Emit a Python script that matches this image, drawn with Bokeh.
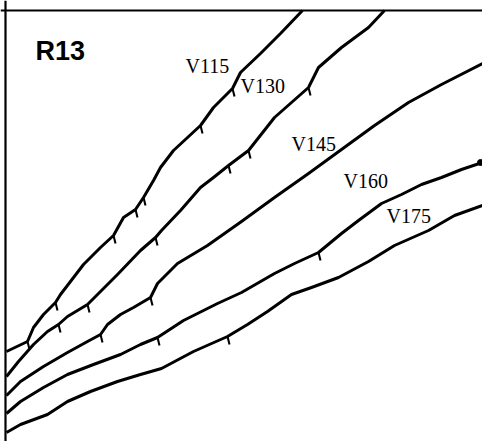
import numpy as np
from bokeh.plotting import figure
from bokeh.models import Range1d, Span
from bokeh.core.properties import value
from bokeh.embed import file_html
from bokeh.resources import INLINE

# Curves (x across the box, y up from the bottom edge)
v115_x = [6, 27, 33, 43, 55, 60, 83, 100, 113, 123, 135, 143, 153, 160, 173, 200, 213, 232, 240, 260, 280, 302]
v115_y = [90, 100, 114, 127, 139, 147, 177, 194, 206, 224, 232, 244, 261, 274, 291, 316, 334, 353, 369, 388, 408, 431]

v130_x = [6, 18, 33, 47, 58, 67, 87, 97, 117, 140, 155, 161, 180, 200, 213, 228, 248, 274, 308, 318, 341, 368, 384]
v130_y = [65, 80, 97, 110, 117, 125, 137, 147, 167, 191, 204, 211, 231, 254, 264, 276, 291, 324, 354, 374, 394, 414, 431]

v145_x = [6, 20, 43, 67, 87, 100, 107, 120, 133, 150, 157, 177, 207, 241, 274, 308, 341, 374, 408, 441, 482]
v145_y = [46, 60, 75, 89, 100, 107, 117, 127, 134, 144, 158, 178, 196, 220, 244, 268, 292, 316, 339, 357, 378]

v160_x = [6, 20, 43, 67, 93, 120, 140, 157, 183, 217, 241, 274, 294, 318, 341, 358, 381, 401, 421, 441, 461, 482]
v160_y = [28, 40, 54, 67, 77, 87, 97, 104, 121, 138, 149, 168, 178, 189, 208, 221, 238, 247, 257, 264, 272, 279]

v175_x = [6, 20, 47, 67, 90, 117, 140, 161, 193, 227, 247, 267, 291, 311, 338, 368, 394, 428, 454, 482]
v175_y = [9, 17, 27, 40, 50, 60, 67, 73, 90, 105, 117, 130, 147, 154, 164, 180, 196, 211, 226, 236]

# Positions of the small marks along each curve
v115_marks = [27, 55, 113, 135, 143, 200, 232]
v130_marks = [58, 87, 155, 228, 248, 308]
v145_marks = [100, 150]
v160_marks = [157, 318]
v175_marks = [227]

series_names = ["V115", "V130", "V145", "V160", "V175"]
label_x = [185, 240, 291, 343, 386]
label_y = [376, 356, 298, 261, 226]

panel_label = "R13"

curves = [(v115_x, v115_y, v115_marks), (v130_x, v130_y, v130_marks),
          (v145_x, v145_y, v145_marks), (v160_x, v160_y, v160_marks),
          (v175_x, v175_y, v175_marks)]

p = figure(width=482, height=441, output_backend="svg", toolbar_location=None,
           x_range=Range1d(0, 482), y_range=Range1d(0, 441), min_border=0)
p.axis.visible = False
p.grid.visible = False
p.outline_line_color = None
p.background_fill_color = "white"
p.border_fill_color = "white"

# box border (left and top)
p.add_layout(Span(location=5, dimension="height", line_color="black", line_width=2.2))
p.add_layout(Span(location=431, dimension="width", line_color="black", line_width=2.2))

for xs, ys, marks in curves:
    p.line(xs, ys, line_color="black", line_width=3, line_join="round")
    mx = np.array(marks, dtype=float)
    my = np.interp(mx, xs, ys)
    p.segment(x0=mx, y0=my, x1=mx + 2, y1=my - 8, line_color="black", line_width=2)

# end blob of V160
p.scatter([v160_x[-1] - 2], [v160_y[-1]], size=6, color="black")

p.text(x=label_x, y=label_y, text=series_names, text_font=value("Liberation Serif"),
       text_font_size="20px", text_color="black", text_baseline="alphabetic")
p.text(x=[35], y=[391], text=[panel_label], text_font=value("Liberation Sans"),
       text_font_size="27px", text_font_style="bold", text_color="black",
       text_baseline="alphabetic")

open("out.html", "w").write(file_html(p, INLINE))
